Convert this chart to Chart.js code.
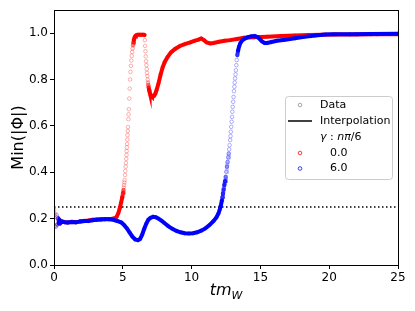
<!DOCTYPE html>
<html>
<head>
<meta charset="utf-8">
<script src="https://cdn.jsdelivr.net/npm/chart.js@4.4.0/dist/chart.umd.min.js"></script>
<style>
    html, body { margin: 0; padding: 0; background: #fff; }
    #wrap { width: 415px; height: 311px; }
</style>
</head>
<body>
<div id="wrap"><canvas id="minPhiChart" width="415" height="311"></canvas></div>
<script>
// [t m_W, Min(|Phi|)]
const gamma0 = [
    [ 0, 0.225 ], [ 0.05, 0.165 ], [ 0.1, 0.22 ], [ 0.15, 0.17 ], [ 0.2, 0.205 ], [ 0.25, 0.175 ],
    [ 0.3, 0.2 ], [ 0.35, 0.178 ], [ 0.4, 0.195 ], [ 0.5, 0.182 ], [ 0.6, 0.188 ], [ 0.8, 0.185 ],
    [ 1.0, 0.183 ], [ 1.3, 0.186 ], [ 1.6, 0.184 ], [ 1.9, 0.188 ], [ 2.2, 0.19 ], [ 2.5, 0.192 ],
    [ 2.8, 0.195 ], [ 3.1, 0.196 ], [ 3.4, 0.197 ], [ 3.7, 0.198 ], [ 4.0, 0.198 ], [ 4.2, 0.199 ],
    [ 4.45, 0.203 ], [ 4.55, 0.208 ], [ 4.67, 0.223 ], [ 4.78, 0.245 ], [ 4.88, 0.27 ], [ 4.96, 0.292 ],
    [ 5.02, 0.312 ], [ 5.05, 0.323 ], [ 5.07, 0.334 ], [ 5.09, 0.345 ], [ 5.11, 0.356 ], [ 5.13, 0.366 ],
    [ 5.16, 0.388 ], [ 5.18, 0.406 ], [ 5.21, 0.424 ], [ 5.23, 0.44 ], [ 5.25, 0.458 ], [ 5.27, 0.475 ],
    [ 5.28, 0.491 ], [ 5.3, 0.507 ], [ 5.31, 0.522 ], [ 5.33, 0.541 ], [ 5.34, 0.56 ], [ 5.36, 0.578 ],
    [ 5.38, 0.595 ], [ 5.41, 0.629 ], [ 5.42, 0.65 ], [ 5.44, 0.672 ], [ 5.47, 0.718 ], [ 5.5, 0.761 ],
    [ 5.53, 0.8 ], [ 5.56, 0.833 ], [ 5.59, 0.859 ], [ 5.62, 0.882 ], [ 5.65, 0.902 ], [ 5.68, 0.919 ],
    [ 5.71, 0.934 ], [ 5.74, 0.948 ], [ 5.77, 0.96 ], [ 5.8, 0.97 ], [ 5.85, 0.98 ], [ 5.9, 0.986 ],
    [ 5.95, 0.99 ], [ 6.0, 0.992 ], [ 6.1, 0.993 ], [ 6.2, 0.993 ], [ 6.3, 0.993 ], [ 6.4, 0.993 ],
    [ 6.5, 0.993 ], [ 6.58, 0.992 ], [ 6.6, 0.97 ], [ 6.62, 0.945 ], [ 6.645, 0.922 ], [ 6.67, 0.9 ],
    [ 6.69, 0.879 ], [ 6.715, 0.862 ], [ 6.74, 0.845 ], [ 6.76, 0.829 ], [ 6.785, 0.815 ], [ 6.81, 0.8 ],
    [ 6.83, 0.787 ], [ 6.855, 0.776 ], [ 6.88, 0.766 ], [ 6.91, 0.756 ], [ 6.95, 0.746 ], [ 7.0, 0.737 ],
    [ 7.05, 0.731 ], [ 7.12, 0.727 ], [ 7.2, 0.726 ], [ 7.28, 0.73 ], [ 7.37, 0.74 ], [ 7.47, 0.757 ],
    [ 7.6, 0.785 ], [ 7.75, 0.822 ], [ 7.9, 0.853 ], [ 8.05, 0.876 ], [ 8.25, 0.897 ], [ 8.5, 0.917 ],
    [ 8.8, 0.932 ], [ 9.15, 0.945 ], [ 9.5, 0.953 ], [ 9.9, 0.96 ], [ 10.2, 0.967 ], [ 10.5, 0.972 ],
    [ 10.7, 0.977 ], [ 10.9, 0.97 ], [ 11.1, 0.96 ], [ 11.35, 0.956 ], [ 11.6, 0.958 ], [ 12.0, 0.963 ],
    [ 12.4, 0.967 ], [ 12.8, 0.97 ], [ 13.3, 0.975 ], [ 13.8, 0.98 ], [ 14.5, 0.982 ], [ 15.5, 0.985 ],
    [ 16.5, 0.988 ], [ 17.5, 0.99 ], [ 18.5, 0.992 ], [ 19.5, 0.993 ], [ 20.5, 0.994 ], [ 22, 0.994 ],
    [ 23.5, 0.995 ], [ 25, 0.995 ]
]

const gamma6 = [
    [ 0, 0.24 ], [ 0.05, 0.17 ], [ 0.1, 0.21 ], [ 0.15, 0.165 ], [ 0.2, 0.215 ], [ 0.25, 0.175 ],
    [ 0.3, 0.2 ], [ 0.35, 0.18 ], [ 0.4, 0.192 ], [ 0.5, 0.183 ], [ 0.6, 0.187 ], [ 0.8, 0.184 ],
    [ 1.0, 0.183 ], [ 1.3, 0.185 ], [ 1.6, 0.184 ], [ 1.9, 0.188 ], [ 2.2, 0.19 ], [ 2.5, 0.19 ],
    [ 2.8, 0.193 ], [ 3.1, 0.195 ], [ 3.4, 0.196 ], [ 3.7, 0.197 ], [ 4.0, 0.197 ], [ 4.3, 0.195 ],
    [ 4.6, 0.19 ], [ 4.9, 0.183 ], [ 5.1, 0.172 ], [ 5.3, 0.158 ], [ 5.5, 0.14 ], [ 5.7, 0.122 ],
    [ 5.9, 0.11 ], [ 6.1, 0.107 ], [ 6.25, 0.112 ], [ 6.4, 0.13 ], [ 6.55, 0.155 ], [ 6.7, 0.178 ],
    [ 6.85, 0.195 ], [ 7.0, 0.203 ], [ 7.2, 0.208 ], [ 7.4, 0.206 ], [ 7.6, 0.2 ], [ 7.8, 0.192 ],
    [ 8.0, 0.182 ], [ 8.3, 0.168 ], [ 8.6, 0.156 ], [ 8.9, 0.147 ], [ 9.2, 0.141 ], [ 9.5, 0.137 ],
    [ 9.8, 0.136 ], [ 10.1, 0.137 ], [ 10.4, 0.141 ], [ 10.7, 0.148 ], [ 11.0, 0.158 ], [ 11.3, 0.172 ],
    [ 11.6, 0.19 ], [ 11.8, 0.205 ], [ 11.95, 0.222 ], [ 12.05, 0.24 ], [ 12.13, 0.258 ], [ 12.2, 0.278 ],
    [ 12.24, 0.293 ], [ 12.28, 0.308 ], [ 12.33, 0.326 ], [ 12.38, 0.345 ], [ 12.43, 0.362 ], [ 12.48, 0.381 ],
    [ 12.52, 0.402 ], [ 12.57, 0.424 ], [ 12.62, 0.445 ], [ 12.66, 0.464 ], [ 12.7, 0.481 ], [ 12.73, 0.499 ],
    [ 12.76, 0.517 ], [ 12.8, 0.539 ], [ 12.83, 0.556 ], [ 12.85, 0.575 ], [ 12.88, 0.596 ], [ 12.91, 0.618 ],
    [ 12.94, 0.639 ], [ 12.96, 0.661 ], [ 12.99, 0.682 ], [ 13.02, 0.704 ], [ 13.05, 0.725 ], [ 13.08, 0.75 ],
    [ 13.11, 0.769 ], [ 13.13, 0.787 ], [ 13.16, 0.805 ], [ 13.19, 0.822 ], [ 13.22, 0.84 ], [ 13.25, 0.862 ],
    [ 13.28, 0.884 ], [ 13.32, 0.905 ], [ 13.38, 0.925 ], [ 13.45, 0.942 ], [ 13.55, 0.958 ], [ 13.7, 0.97 ],
    [ 13.9, 0.978 ], [ 14.1, 0.983 ], [ 14.35, 0.987 ], [ 14.6, 0.988 ], [ 14.8, 0.983 ], [ 14.95, 0.975 ],
    [ 15.1, 0.965 ], [ 15.3, 0.958 ], [ 15.5, 0.958 ], [ 15.8, 0.962 ], [ 16.2, 0.967 ], [ 16.8, 0.972 ],
    [ 17.5, 0.978 ], [ 18.2, 0.984 ], [ 19.0, 0.99 ], [ 19.7, 0.994 ], [ 20.3, 0.995 ], [ 21.5, 0.995 ],
    [ 23.0, 0.996 ], [ 25.0, 0.998 ]
]

const threshold = 0.25
const xTicks = [ 0, 5, 10, 15, 20, 25 ]
const yTicks = [ 0, 0.2, 0.4, 0.6, 0.8, 1.0 ]
const gammaLabels = [ '0.0', '6.0' ]

const FONT = '"DejaVu Sans", sans-serif'

// line fades out where samples are far apart (steep parts only show the circles)
function segColor ( rgb ) {
    return ctx => {
        const dx = Math.abs( ctx.p1.x - ctx.p0.x ) || 0.01
        const s = Math.abs( ctx.p1.y - ctx.p0.y ) / dx
        const a = Math.max( 0, Math.min( 1, ( 8 - s ) / 3 ) )
        return `rgba(${ rgb },${ a })`
    }
}

function series ( pairs, rgb, order ) {
    return {
        data: pairs.map( p => ( { x: p[ 0 ], y: p[ 1 ] } ) ),
        showLine: true,
        borderColor: `rgb(${ rgb })`,
        borderWidth: 4,
        borderCapStyle: 'round',
        segment: { borderColor: segColor( rgb ) },
        pointRadius: 1.8,
        pointBorderWidth: 0.9,
        pointBackgroundColor: 'rgba(0,0,0,0)',
        pointBorderColor: `rgba(${ rgb },0.35)`,
        order: order
    }
}

const overlay = {
    id: 'overlay',
    afterDraw ( chart ) {
        const { ctx, chartArea: a } = chart
        ctx.save()

        // frame
        ctx.strokeStyle = '#000'
        ctx.lineWidth = 1
        ctx.strokeRect( Math.round( a.left ) + 0.5, Math.round( a.top ) + 0.5,
            Math.round( a.right - a.left ), Math.round( a.bottom - a.top ) )

        // y title
        ctx.save()
        ctx.translate( 19, ( a.top + a.bottom ) / 2 )
        ctx.rotate( -Math.PI / 2 )
        ctx.font = `16px ${ FONT }`
        ctx.fillStyle = '#000'
        ctx.textAlign = 'center'
        ctx.textBaseline = 'middle'
        ctx.fillText( 'Min(|Φ|)', 0, 0 )
        ctx.restore()

        // x title: t m_W
        ctx.fillStyle = '#000'
        ctx.textBaseline = 'alphabetic'
        ctx.textAlign = 'left'
        ctx.font = `italic 16px ${ FONT }`
        const w1 = ctx.measureText( 'tm' ).width
        ctx.font = `italic 11px ${ FONT }`
        const w2 = ctx.measureText( 'W' ).width
        const cx = ( a.left + a.right ) / 2
        const x0 = cx - ( w1 + w2 ) / 2
        ctx.font = `italic 16px ${ FONT }`
        ctx.fillText( 'tm', x0, 295 )
        ctx.font = `italic 11px ${ FONT }`
        ctx.fillText( 'W', x0 + w1, 298.5 )

        // legend box
        const lx = 285.5, ly = 96.5, lw = 107, lh = 83
        ctx.beginPath()
        ctx.roundRect( lx, ly, lw, lh, 3 )
        ctx.fillStyle = 'rgba(255,255,255,0.8)'
        ctx.fill()
        ctx.strokeStyle = '#cccccc'
        ctx.lineWidth = 1
        ctx.stroke()

        const mx = 300, tx = 320
        const rows = [ 105, 121, 137.5, 153, 168.5 ]
        const dot = ( y, color ) => {
            ctx.beginPath()
            ctx.arc( mx, y, 1.8, 0, Math.PI * 2 )
            ctx.strokeStyle = color
            ctx.lineWidth = 1
            ctx.stroke()
        }
        ctx.textBaseline = 'middle'
        ctx.fillStyle = '#000'
        ctx.font = `11px ${ FONT }`

        dot( rows[ 0 ], 'rgba(128,128,128,0.7)' )
        ctx.fillText( 'Data', tx, rows[ 0 ] )

        ctx.beginPath()
        ctx.moveTo( 288, rows[ 1 ] )
        ctx.lineTo( 312, rows[ 1 ] )
        ctx.strokeStyle = '#000'
        ctx.lineWidth = 1.5
        ctx.stroke()
        ctx.fillText( 'Interpolation', tx, rows[ 1 ] )

        // γ : nπ/6 (math italics for symbols)
        let px = tx
        const part = ( txt, italic ) => {
            ctx.font = `${ italic ? 'italic ' : '' }11px ${ FONT }`
            ctx.fillText( txt, px, rows[ 2 ] )
            px += ctx.measureText( txt ).width
        }
        part( 'γ', true )
        part( ' : ', false )
        part( 'nπ', true )
        part( '/6', false )

        ctx.font = `11px ${ FONT }`
        dot( rows[ 3 ], 'rgba(255,0,0,0.75)' )
        ctx.fillText( gammaLabels[ 0 ], 330, rows[ 3 ] )
        dot( rows[ 4 ], 'rgba(0,0,255,0.75)' )
        ctx.fillText( gammaLabels[ 1 ], 330, rows[ 4 ] )

        ctx.restore()
    }
}

const tickFont = { family: 'DejaVu Sans', size: 12 }

new Chart( document.getElementById( 'minPhiChart' ), {
    type: 'scatter',
    data: {
        datasets: [
            series( gamma6, '0,0,255', 0 ),
            series( gamma0, '255,0,0', 1 ),
            {
                data: [ { x: xTicks[ 0 ], y: threshold }, { x: xTicks[ xTicks.length - 1 ], y: threshold } ],
                showLine: true,
                borderColor: '#000',
                borderWidth: 1.5,
                borderDash: [ 1.5, 2.5 ],
                pointRadius: 0,
                order: 2
            }
        ]
    },
    options: {
        responsive: false,
        animation: false,
        layout: { padding: { top: 10, right: 17, left: 0, bottom: 0 } },
        plugins: {
            legend: { display: false },
            tooltip: { enabled: false }
        },
        scales: {
            x: {
                type: 'linear',
                min: 0,
                max: 25,
                afterBuildTicks: s => { s.ticks = xTicks.map( v => ( { value: v } ) ) },
                afterFit: s => { s.height = 46 },
                grid: { drawOnChartArea: false, drawTicks: true, tickLength: 4, tickColor: '#000', color: '#000' },
                border: { display: false },
                ticks: { color: '#000', font: tickFont, padding: 2, maxRotation: 0, callback: v => String( v ) }
            },
            y: {
                type: 'linear',
                min: 0,
                max: 1.1,
                afterBuildTicks: s => { s.ticks = yTicks.map( v => ( { value: v } ) ) },
                afterFit: s => { s.width = 54 },
                grid: { drawOnChartArea: false, drawTicks: true, tickLength: 4, tickColor: '#000', color: '#000' },
                border: { display: false },
                ticks: { color: '#000', font: tickFont, padding: 2, callback: v => v.toFixed( 1 ) }
            }
        }
    },
    plugins: [ overlay ]
} )
</script>
</body>
</html>
